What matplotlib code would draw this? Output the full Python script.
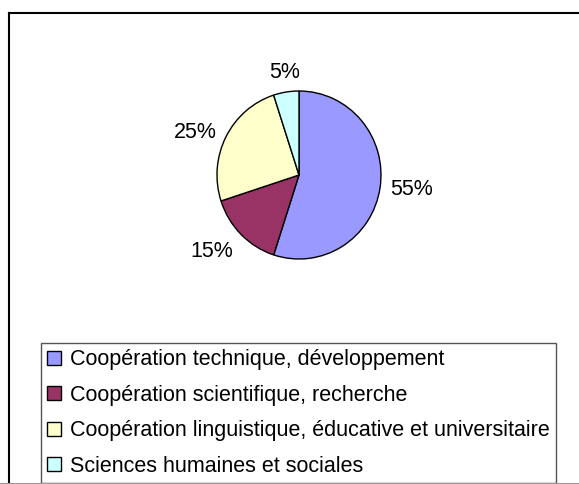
import numpy as np
import matplotlib.pyplot as plt
from matplotlib.lines import Line2D

plt.rcParams['font.family'] = ['Liberation Sans', 'DejaVu Sans']

categories = ['Coopération technique, développement',
              'Coopération scientifique, recherche',
              'Coopération linguistique, éducative et universitaire',
              'Sciences humaines et sociales']
shares = [55, 15, 25, 5]
colors = ['#9999FF', '#993366', '#FFFFCC', '#CCFFFF']

W, H = 579, 484
fig = plt.figure(figsize=(W / 100, H / 100), dpi=100)

def fx(px): return px / W
def fy(py): return 1 - py / H

# outer chart frame (cut off on the right and bottom)
fig.add_artist(Line2D([fx(9), fx(9)], [fy(13), 0], color='black', lw=1.5))
fig.add_artist(Line2D([fx(9), 1], [fy(13), fy(13)], color='black', lw=1.5))
fig.add_artist(Line2D([0, 1], [fy(483), fy(483)], color='#999999', lw=0.8))

# pie, slightly taller than wide like the original
cx, cy, rx, ry = 299, 175, 82, 84
ax = fig.add_axes([fx(cx - 1.5 * rx), fy(cy + 1.5 * ry), 3 * rx / W, 3 * ry / H])
wedges, _ = ax.pie(shares, colors=colors, startangle=90, counterclock=False,
                   wedgeprops=dict(edgecolor='black', linewidth=1.0))
ax.set_xlim(-1.5, 1.5)
ax.set_ylim(-1.5, 1.5)
ax.set_aspect('auto')

for w, v in zip(wedges, shares):
    ang = np.deg2rad((w.theta1 + w.theta2) / 2)
    c, s = np.cos(ang), np.sin(ang)
    ha = 'center' if abs(c) < 0.5 else ('left' if c > 0 else 'right')
    va = 'center' if abs(s) < 0.5 else ('bottom' if s > 0 else 'top')
    ax.text(1.13 * c, 1.11 * s, f'{v}%', ha=ha, va=va, fontsize=15.5)

leg = ax.legend(wedges, categories, loc='upper left',
                bbox_to_anchor=(fx(41), fy(343)), bbox_transform=fig.transFigure,
                borderaxespad=0, fontsize=15.5, handlelength=0.62, handleheight=0.62,
                handletextpad=0.42, borderpad=0.3, labelspacing=0.67,
                fancybox=False, framealpha=1)
leg.get_frame().set_edgecolor('#555555')
leg.get_frame().set_linewidth(1.0)

fig.savefig('out.png', dpi=100)
